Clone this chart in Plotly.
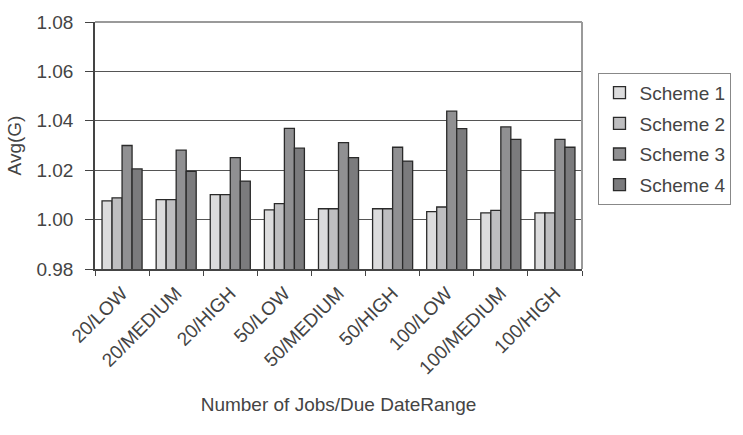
import plotly.graph_objects as go

categories = ["20/LOW", "20/MEDIUM", "20/HIGH", "50/LOW", "50/MEDIUM",
              "50/HIGH", "100/LOW", "100/MEDIUM", "100/HIGH"]
scheme1 = [1.0076, 1.0081, 1.0101, 1.0039, 1.0044, 1.0044, 1.0032, 1.0027, 1.0027]
scheme2 = [1.0088, 1.0081, 1.0101, 1.0065, 1.0044, 1.0044, 1.0051, 1.0037, 1.0027]
scheme3 = [1.0300, 1.0281, 1.0251, 1.0369, 1.0312, 1.0293, 1.0439, 1.0375, 1.0325]
scheme4 = [1.0205, 1.0195, 1.0156, 1.0289, 1.0251, 1.0237, 1.0368, 1.0325, 1.0293]
series_names = ["Scheme 1", "Scheme 2", "Scheme 3", "Scheme 4"]
y_ticks = [0.98, 1.00, 1.02, 1.04, 1.06, 1.08]

colors = ["#dcdcdd", "#bebec0", "#909092", "#7b7b7d"]
FONT = "Liberation Sans, Arial, sans-serif"
TXT = "#444444"
FS = 19

fig = go.Figure()
for name, vals, col in zip(series_names, [scheme1, scheme2, scheme3, scheme4], colors):
    fig.add_trace(go.Bar(
        x=categories, y=vals, name=name, legendgroup=name,
        marker=dict(color=col, line=dict(color="#2a2a2a", width=1.3)),
    ))

W, H = 743, 435
L, R, T, B = 95, 146, 16, 166
fig.update_layout(
    width=W, height=H,
    margin=dict(l=L, r=R, t=T, b=B),
    paper_bgcolor="white", plot_bgcolor="white",
    barmode="group", bargap=0.26, bargroupgap=0,
    font=dict(family=FONT, size=FS, color=TXT),
    showlegend=True,
    legend=dict(
        x=(614 - L) / (W - L - R), xanchor="left",
        y=1 - (68 - T) / (H - T - B), yanchor="top",
        bordercolor="#888888", borderwidth=1,
        font=dict(family=FONT, size=FS, color=TXT),
        tracegroupgap=3, itemwidth=30,
    ),
)

fig.update_xaxes(
    type="category", tickangle=-45, tickson="boundaries",
    ticks="outside", ticklen=5, tickcolor="#444444",
    showline=True, linecolor="#444444", linewidth=1.5,
    showgrid=False, ticklabelstandoff=4,
    tickfont=dict(family=FONT, size=FS, color=TXT),
    title=dict(text="Number of Jobs/Due DateRange",
               font=dict(family=FONT, size=FS, color=TXT), standoff=20),
)
fig.update_yaxes(
    range=[0.98, 1.08], tickvals=y_ticks,
    ticktext=[f"{v:.2f}" for v in y_ticks],
    ticks="outside", ticklen=8, tickcolor="#444444",
    showline=True, linecolor="#444444", linewidth=1.5,
    showgrid=True, gridcolor="#555555", gridwidth=1.3,
    zeroline=False, ticklabelstandoff=8,
    tickfont=dict(family=FONT, size=FS, color=TXT),
    title=dict(text="Avg(G)", font=dict(family=FONT, size=FS, color=TXT), standoff=10),
)

# lighter frame on the top and right of the plotting area
fig.add_shape(type="line", xref="paper", yref="paper", x0=0, x1=1, y0=1, y1=1,
              line=dict(color="#9a9a9a", width=2))
fig.add_shape(type="line", xref="paper", yref="paper", x0=1, x1=1, y0=0, y1=1,
              line=dict(color="#9a9a9a", width=2))

fig.write_html("out.html")
